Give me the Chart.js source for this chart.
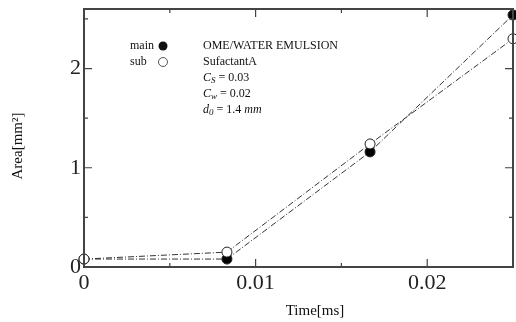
<!DOCTYPE html>
<html lang="en">
<head>
    <meta charset="utf-8" />
    <title>Area vs Time</title>
    <script src="https://cdn.jsdelivr.net/npm/chart.js@4.4.0/dist/chart.umd.min.js"></script>
    <style>
        html, body { margin: 0; padding: 0; background: #fff; }
        #wrap { width: 516px; height: 322px; }
    </style>
</head>
<body>
    <div id="wrap"><canvas id="areaChart" width="516" height="322"></canvas></div>

    <script>
        // data
        var timeValues = [0, 0.00833, 0.01667, 0.025];
        var mainArea = [0.08, 0.08, 1.16, 2.54];
        var subArea = [0.08, 0.15, 1.24, 2.30];
        var xTickValues = [0, 0.01, 0.02];
        var xTickLabels = ["0", "0.01", "0.02"];
        var yTickValues = [0, 1, 2];
        var yTickLabels = ["0", "1", "2"];
        var infoLines = ["OME/WATER EMULSION", "SufactantA"];

        var serif = "'Liberation Serif', 'DejaVu Serif', serif";

        function toPoints(xs, ys) {
            return xs.map(function (x, i) { return { x: x, y: ys[i] }; });
        }

        // frame, inward ticks, legend and notes
        var decorPlugin = {
            id: 'decor',
            afterDraw: function (chart) {
                var ctx = chart.ctx;
                var a = chart.chartArea;
                var xs = chart.scales.x, ys = chart.scales.y;
                ctx.save();

                ctx.strokeStyle = '#444';
                ctx.lineWidth = 2;
                ctx.strokeRect(a.left, a.top, a.right - a.left, a.bottom - a.top);

                ctx.lineWidth = 1.2;
                ctx.beginPath();
                for (var v = 0; v <= 0.0251; v += 0.005) {
                    var px = xs.getPixelForValue(v);
                    if (px <= a.left + 1 || px >= a.right - 1) continue;
                    var major = Math.abs(v / 0.01 - Math.round(v / 0.01)) < 1e-6;
                    var len = major ? 8 : 4;
                    ctx.moveTo(px, a.bottom); ctx.lineTo(px, a.bottom - len);
                    ctx.moveTo(px, a.top); ctx.lineTo(px, a.top + len);
                }
                for (var w = 0; w <= 2.6; w += 0.5) {
                    var py = ys.getPixelForValue(w);
                    if (py >= a.bottom - 1 || py <= a.top + 1) continue;
                    var maj = Math.abs(w - Math.round(w)) < 1e-6;
                    var l2 = maj ? 8 : 4;
                    ctx.moveTo(a.left, py); ctx.lineTo(a.left + l2, py);
                    ctx.moveTo(a.right, py); ctx.lineTo(a.right - l2, py);
                }
                ctx.stroke();

                // legend
                ctx.fillStyle = '#111';
                ctx.font = '12px ' + serif;
                ctx.textBaseline = 'middle';
                ctx.textAlign = 'left';
                ctx.fillText('main', 130, 46);
                ctx.fillText('sub', 130, 62);
                ctx.beginPath();
                ctx.arc(163, 46, 4.5, 0, Math.PI * 2);
                ctx.fill();
                ctx.beginPath();
                ctx.arc(163, 62, 4.5, 0, Math.PI * 2);
                ctx.fillStyle = '#fff';
                ctx.fill();
                ctx.strokeStyle = '#555';
                ctx.lineWidth = 1;
                ctx.stroke();

                // notes
                ctx.fillStyle = '#111';
                ctx.fillText(infoLines[0], 203, 46);
                ctx.fillText(infoLines[1], 203, 62);
                var rows = [['C', 'S', ' = 0.03', 78], ['C', 'w', ' = 0.02', 94], ['d', '0', ' = 1.4 ', 110]];
                rows.forEach(function (r) {
                    var x = 203;
                    ctx.font = 'italic 12px ' + serif;
                    ctx.fillText(r[0], x, r[3]);
                    x += ctx.measureText(r[0]).width;
                    ctx.font = 'italic 9px ' + serif;
                    ctx.fillText(r[1], x, r[3] + 3);
                    x += ctx.measureText(r[1]).width;
                    ctx.font = '12px ' + serif;
                    ctx.fillText(r[2], x, r[3]);
                    x += ctx.measureText(r[2]).width;
                    if (r[0] === 'd') {
                        ctx.font = 'italic 12px ' + serif;
                        ctx.fillText('mm', x, r[3]);
                    }
                });

                // axis titles
                ctx.font = '15px ' + serif;
                ctx.textAlign = 'center';
                ctx.fillText('Time[ms]', 315, 311);
                ctx.translate(18, 146);
                ctx.rotate(-Math.PI / 2);
                ctx.fillText('Area[mm\u00B2]', 0, 0);
                ctx.restore();
            }
        };

        var lineStyle = {
            borderColor: '#333',
            borderWidth: 1,
            borderDash: [6, 2, 1, 2],
            pointRadius: 5,
            pointBorderWidth: 1,
            pointBorderColor: '#222',
            tension: 0
        };

        var chart = new Chart(document.getElementById('areaChart').getContext('2d'), {
            type: 'line',
            data: {
                datasets: [
                    Object.assign({ label: 'sub', data: toPoints(timeValues, subArea), pointBackgroundColor: '#fff' }, lineStyle),
                    Object.assign({ label: 'main', data: toPoints(timeValues, mainArea), pointBackgroundColor: '#000' }, lineStyle)
                ]
            },
            options: {
                responsive: false,
                animation: false,
                clip: false,
                layout: { autoPadding: false, padding: { top: 9, right: 3, left: 0, bottom: 0 } },
                plugins: {
                    legend: { display: false },
                    tooltip: { enabled: false }
                },
                scales: {
                    x: {
                        type: 'linear',
                        min: 0,
                        max: 0.025,
                        grid: { display: false, drawTicks: false },
                        border: { display: false },
                        afterFit: function (scale) {
                            scale.height = 55;
                            scale.paddingLeft = 0;
                            scale.paddingRight = 0;
                        },
                        afterBuildTicks: function (scale) {
                            scale.ticks = xTickValues.map(function (v) { return { value: v }; });
                        },
                        ticks: {
                            padding: 3,
                            color: '#222',
                            font: { family: serif, size: 22 },
                            maxRotation: 0,
                            callback: function (value) {
                                var i = xTickValues.indexOf(value);
                                return i >= 0 ? xTickLabels[i] : '';
                            }
                        }
                    },
                    y: {
                        min: 0,
                        max: 2.6,
                        grid: { display: false, drawTicks: false },
                        border: { display: false },
                        afterFit: function (scale) {
                            scale.width = 84;
                            scale.paddingTop = 0;
                            scale.paddingBottom = 0;
                        },
                        afterBuildTicks: function (scale) {
                            scale.ticks = yTickValues.map(function (v) { return { value: v }; });
                        },
                        ticks: {
                            padding: 3,
                            color: '#222',
                            font: { family: serif, size: 22 },
                            callback: function (value) {
                                var i = yTickValues.indexOf(value);
                                return i >= 0 ? yTickLabels[i] : '';
                            }
                        }
                    }
                }
            },
            plugins: [decorPlugin]
        });
    </script>
</body>
</html>
